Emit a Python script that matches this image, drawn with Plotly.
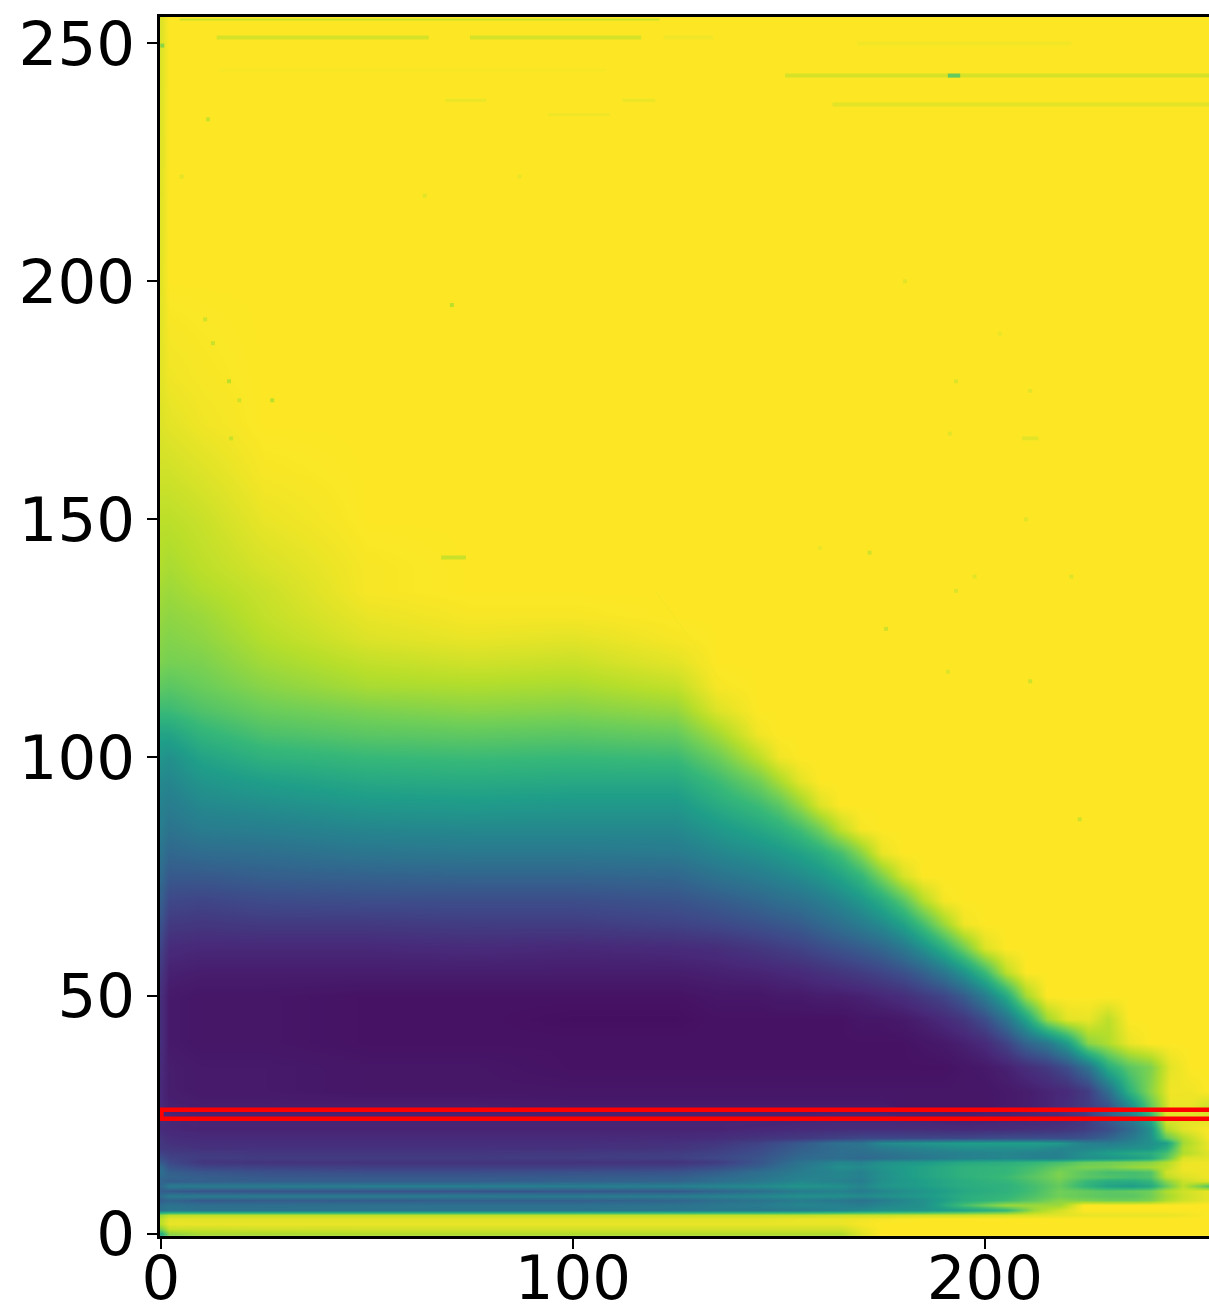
import plotly.graph_objects as go
from plotly.colors import sample_colorscale

# lower block of the map (fine rows)
cols_low = [0, 2, 10, 25, 50, 75, 100, 125, 135, 145, 155, 165, 170, 175, 185, 195, 205, 212, 218, 224, 230, 236, 240, 244, 248, 255]
rows_low = [0, 1, 2, 3, 4, 5, 6, 7, 8, 9, 10, 11, 12, 13, 14, 15, 16, 17, 18, 19, 20, 22, 24, 27]
# percent of the colour range, one list per row, bottom row first; omitted tail cells are saturated
cells_low = [
 [60,82,87,87,88,88,88,88,88,88,88,88,95],
 [80,92,92,93,93,93,93,93,93,93,93,93,97],
 [90,97,97,97,97,97,97,97,97,97,97,97,99],
 [90,96,96,96,96,96,96,96,96,96,97,97,98,99],
 [85,90,91,91,91,91,91,91,91,91,91,92,92,92,93,93,94,95,96,97,97,97,97,97,98,100],
 [38,40,38,38,38,38,38,39,40,40,42,45,48,50,52,58,66,85,93],
 [36,38,36,36,37,37,37,38,40,42,46,44,42,46,50,70,85,85,85],
 [30,32,28,29,29,30,30,32,36,38,42,40,38,42,50,62,68,75,82,80,78,78,80,88,93,97],
 [36,42,42,42,42,42,42,43,45,47,50,50,48,50,54,62,66,72,78,76,74,74,78,86,92,97],
 [30,28,26,26,26,26,27,28,32,36,42,44,42,46,52,60,64,70,78,76,74,76,78,88,93,97],
 [34,42,42,42,43,43,43,44,46,48,52,50,46,52,56,62,64,70,76,66,58,56,60,76,90,72],
 [32,30,30,30,30,30,31,32,36,40,46,44,42,50,56,62,66,72,78,68,62,62,66,82,92,96],
 [34,32,30,28,28,28,29,30,34,38,44,46,44,50,58,64,68,74,80,74,72,70,72,90,95,98],
 [36,30,27,25,24,24,25,26,30,36,42,46,44,50,58,64,66,72,80,74,70,70,72,93,97,98],
 [34,26,21,20,19,19,19,20,24,30,40,50,48,52,58,64,66,70,76,80,80,84,86,90,98,98],
 [28,22,16,15,15,15,15,15,18,26,38,46,44,50,54,60,62,66,70,76,78,80,82,88,97,98],
 [24,20,18,18,18,18,18,19,22,26,34,36,34,36,40,44,46,44,44,50,52,56,60,74,95,96],
 [20,18,17,16,16,16,17,18,20,24,32,36,36,38,42,44,46,44,44,50,56,60,62,70,88,96],
 [17,16,14,14,14,14,14,15,18,22,30,36,38,42,46,50,50,50,46,46,48,50,52,62,88,98],
 [16,14,13,13,13,13,13,14,16,20,28,38,38,48,52,56,56,56,54,44,42,46,50,56,86,98],
 [15,13,12,12,12,12,12,12,13,15,17,20,22,22,22,22,24,24,24,26,32,42,50,75,88,100],
 [12,11,10,10,10,10,10,10,10,11,12,13,13,13,13,12,13,14,15,18,24,36,50,88,96,100],
 [12,11,10,10,10,10,10,10,10,10,10,11,11,11,10,9,10,11,12,16,28,42,60,95,96,96],
 [11,9,8,8,8,8,7,7,7,7,7,7,7,7,6,7,8,10,13,20,34,54,78,97,97,92],
]
# upper block of the map (fine columns along the diagonal edge)
cols_up = [0, 2, 10, 25, 50, 75, 100, 125, 135, 145, 150, 155, 160, 165, 170, 175, 180, 185, 190, 195, 200, 205, 210, 215, 220, 225, 230, 235, 240, 245, 250, 255]
rows_up = [27, 30, 35, 40, 45, 50, 55, 60, 65, 70, 75, 80, 85, 90, 95, 100, 105, 110, 115, 120, 125, 130, 135, 140, 150, 160, 170, 180, 200, 255]
cells_up = [
 [11,9,8,8,8,8,7,7,7,7,7,7,7,7,7,7,6,6,6,6,6,7,8,10,13,18,26,48,75,97,97,92],
 [11,8,7,7,6,6,6,6,6,6,6,6,6,6,6,6,6,6,6,6,6,7,8,10,12,18,36,64,82,98,98,100],
 [12,8,7,7,6,6,5,5,5,5,5,5,5,5,5,5,5,5,5,6,7,9,13,17,24,38,62,74,80,96],
 [13,7,6,6,5,5,5,5,5,5,5,5,5,5,5,5,5,6,7,9,12,20,32,40,55,82,88,97],
 [13,7,6,6,5,5,4,4,5,5,5,5,5,5,6,6,7,9,12,16,24,38,58,85,96,97,90],
 [13,7,6,6,5,5,5,5,6,6,7,7,8,8,9,11,13,17,21,29,42,60,86],
 [16,9,8,8,8,8,8,8,9,10,11,12,14,16,18,21,25,31,40,52,68,90],
 [20,12,11,11,11,12,11,12,13,16,18,20,23,26,29,33,40,50,63,78,95],
 [25,17,16,17,17,18,18,20,22,25,27,29,33,37,42,48,57,70,85,98],
 [30,22,21,23,24,24,24,26,29,33,36,38,42,47,53,62,74,89,99],
 [34,28,28,30,31,32,32,33,38,42,45,48,52,58,66,80,94],
 [38,33,35,36,39,40,40,41,46,50,53,57,62,70,82,97],
 [42,38,42,43,46,47,47,47,53,59,63,69,78,91,99],
 [44,42,47,49,53,54,53,53,61,68,74,84,95],
 [47,46,52,56,60,61,60,60,68,78,87,96],
 [52,50,58,64,67,68,67,68,77,90,98],
 [58,58,65,71,74,75,74,76,86,98],
 [68,68,72,77,80,82,81,84,95],
 [75,74,77,82,87,88,87,91,99],
 [80,79,80,86,91,93,92,96],
 [82,81,83,89,95,97,96,99],
 [84,83,85,91,97,99,99],
 [86,85,88,92,99],
 [88,87,90,94,99],
 [90,90,92,97],
 [93,93,95,99],
 [95,96,98],
 [96,98,99],
 [96,100],
 [95,100],
]
streak_y0 = [255, 251.2, 251.2, 251.2, 243.2, 243.2, 237.1, 142, 135, 167, 250, 244.3, 238, 238, 235]
streak_y1 = [255, 251.2, 251.2, 251.2, 243.2, 243.2, 237.1, 142, 105, 167, 250, 244.3, 238, 238, 235]
streak_x0 = [4.5, 13.5, 75, 122, 151.5, 191, 163, 68, 120, 209, 169, 14, 69, 112, 94]
streak_x1 = [121, 65, 116.6, 134, 254.4, 194, 254.4, 74, 145, 213, 221, 108, 79, 120, 109]
streak_v = [.92, .94, .94, .98, .94, .76, .96, .92, .985, .96, .985, .99, .97, .97, .98]
streak_w = [2, 4, 4, 4, 4, 4, 4, 4, 1, 4, 4, 3, 3, 3, 3]
speck_x = [10.7, 12.6, 16.5, 19, 27, 17, 70.6, 64, 87, 5, 11.4, 211, 191, 223, 176, 172, 193, 210, 221, 180.6, 193, 160, 197.5, 203.6, 211, 191.5, 0.3]
speck_y = [192, 187, 179, 175, 175, 167, 195, 218, 222, 222, 234, 116, 118, 87, 127, 143, 135, 150, 138, 200, 179, 144, 138, 189, 177, 168, 249.5]
speck_v = [.93, .92, .90, .93, .90, .92, .90, .96, .97, .96, .92, .93, .95, .93, .93, .93, .95, .96, .95, .96, .95, .97, .96, .97, .96, .96, .82]
band_low = 24.1
band_high = 26.0
x_ticks = [0, 100, 200]
y_ticks = [0, 50, 100, 150, 200, 250]

z_low = [r + [100] * (len(cols_low) - len(r)) for r in cells_low]
z_up = [r + [100] * (len(cols_up) - len(r)) for r in cells_up]

fig = go.Figure()
for xs, ys, zs in ((cols_low, rows_low, z_low), (cols_up, rows_up, z_up)):
    fig.add_trace(go.Heatmap(x=xs, y=ys, z=zs, zmin=0, zmax=100, colorscale="Viridis",
                             zsmooth="best", showscale=False, hoverinfo="skip"))
for y0, y1, x0, x1, v, w in zip(streak_y0, streak_y1, streak_x0, streak_x1, streak_v, streak_w):
    fig.add_trace(go.Scatter(x=[x0, x1], y=[y0, y1], mode="lines", showlegend=False, hoverinfo="skip",
                             line=dict(color=sample_colorscale("Viridis", [v])[0], width=w)))
fig.add_trace(go.Scatter(x=speck_x, y=speck_y, mode="markers", showlegend=False, hoverinfo="skip",
                         marker=dict(symbol="square", size=4, color=speck_v, cmin=0, cmax=1,
                                     colorscale="Viridis", line=dict(width=0))))
for yb in (band_low, band_high):
    fig.add_shape(type="line", xref="x", yref="y", x0=-0.25, x1=254.4, y0=yb, y1=yb,
                  line=dict(color="#ff0000", width=4.5))
fig.add_shape(type="line", xref="x", yref="y", x0=0.1, x1=0.1, y0=band_low, y1=band_high,
              line=dict(color="#ff0000", width=4.5))

axis_common = dict(showgrid=False, zeroline=False, ticks="outside", ticklen=10, tickwidth=2,
                   tickcolor="black", showline=True, linecolor="black", linewidth=2.5,
                   mirror=True, automargin=False,
                   tickfont=dict(family="DejaVu Sans", size=61, color="black"))
fig.update_xaxes(range=[-0.25, 254.4], tickmode="array", tickvals=x_ticks, ticklabelstandoff=-23, **axis_common)
fig.update_yaxes(range=[-0.5, 255.5], tickmode="array", tickvals=y_ticks, **axis_common)
fig.update_layout(width=1209, height=1310, margin=dict(l=160, r=0, t=17, b=74, pad=0),
                  paper_bgcolor="white", plot_bgcolor="white", showlegend=False)
fig.write_html("out.html", config={"displayModeBar": False},
               post_script="document.body.style.margin='0';document.body.style.overflow='hidden';")
